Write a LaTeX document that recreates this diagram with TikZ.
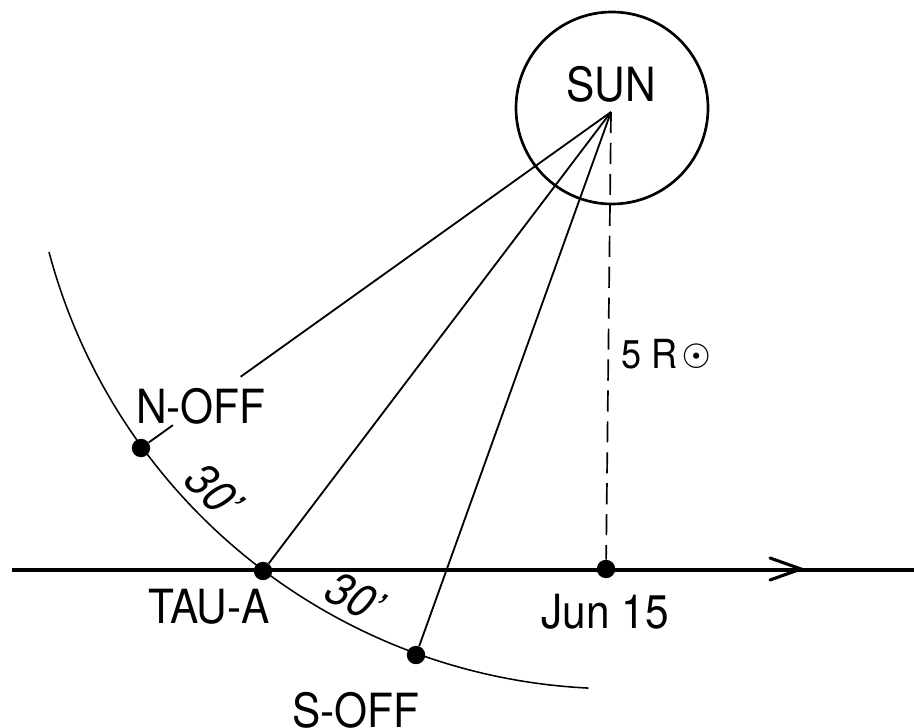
\documentclass[tikz,border=0pt]{standalone}
\usepackage{fontspec}
\setmainfont[FakeStretch=0.9]{TeX Gyre Heros}
\newfontfamily\symfont{DejaVu Sans}
\usetikzlibrary{calc}
\begin{document}
\begin{tikzpicture}[x=0.025cm,y=-0.025cm,
  thinline/.style={line width=1.3pt},
  axisline/.style={line width=2.2pt},
  dotnode/.style={circle,fill=black,inner sep=0pt,minimum size=0.46cm},
  lbl/.style={inner sep=0pt,font=\fontsize{33.5}{40}\selectfont},
  smalllbl/.style={inner sep=0pt,font=\fontsize{28.5}{34}\selectfont},
  dashline/.style={line width=1.2pt,dash pattern=on 15pt off 7pt}]
\useasboundingbox (0,0) rectangle (914,728);
% Sun
\draw[line width=1.9pt] (612,108) circle[radius=96];
\coordinate (sun) at (611,112);
\node[lbl,anchor=base] (sunlbl) at (611,102) {SUN};
% orbit arc
\draw[line width=1.1pt] (49,252) arc[start angle=165.1, end angle=92.8, radius=588];
% axis line
\coordinate (lstart) at (12,570);
\coordinate (lend) at (914,570);
\coordinate (tip) at (801,569);
\draw[axisline] (lstart) -- (lend);
\draw[axisline,line cap=round,line join=miter] (tip) ++(-31,-11) -- (tip) -- ++(-31,11);
% dots
\node[dotnode] (noff) at (141,448) {};
\node[dotnode] (tau) at (263,571) {};
\node[dotnode] (soff) at (416,655) {};
\node[dotnode] (jun) at (606,569) {};
% rays
\coordinate (nbreak1) at ($(sun)!0.788!(noff)$);
\coordinate (nbreak2) at ($(sun)!0.932!(noff)$);
\draw[thinline] (sun) -- (nbreak1);
\draw[thinline] (nbreak2) -- (noff);
\draw[thinline] (sun) -- (tau);
\draw[thinline] (sun) -- (soff);
\draw[dashline] (sun) -- (jun);
% labels
\node[lbl,anchor=base] (nofflbl) at (201,423) {N-OFF};
\node[lbl,anchor=base] (taulbl) at (209,623) {TAU-A};
\node[lbl,anchor=base] (junlbl) at (605,628) {Jun 15};
\node[lbl,anchor=base] (sofflbl) at (356,727) {S-OFF};
\node[smalllbl,anchor=base west] (rlbl) at (621,368) {5 R\hspace{3pt}{\symfont\fontsize{24}{30}\selectfont ☉}};
\node[lbl,rotate=-45] (ang1) at (214,491) {\itshape 30’};
\node[lbl,rotate=-28] (ang2) at (355,597) {\itshape 30’};
\end{tikzpicture}
\end{document}
